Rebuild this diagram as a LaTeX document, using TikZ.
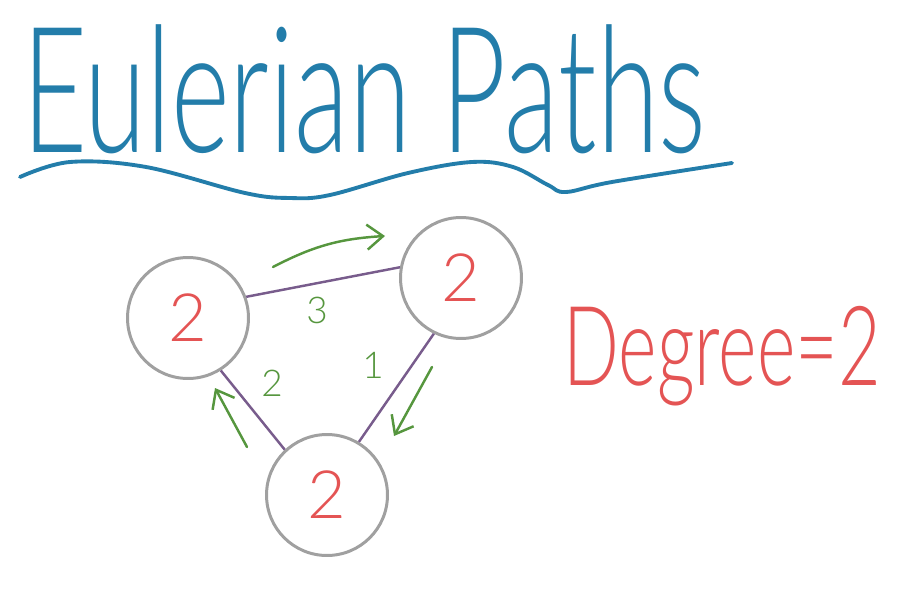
\documentclass[tikz,border=0pt]{standalone}
\usepackage{fontspec}
\setmainfont{Lato}[UprightFont=* Light]
\usepackage{tikz}
\usetikzlibrary{arrows.meta, positioning}
\definecolor{azulTitulo}{RGB}{35,125,170}
\definecolor{rojoGrado}{RGB}{228,84,84}
\definecolor{verdeFlecha}{RGB}{86,150,62}
\definecolor{moradoArista}{RGB}{120,92,140}
\definecolor{grisNodo}{RGB}{160,160,160}

\begin{document}
\begin{tikzpicture}[x=0.02cm, y=-0.02cm,
    vertex/.style={circle, draw=grisNodo, line width=1.7pt, minimum size=2.42cm, inner sep=0pt, text=rojoGrado, font=\fontsize{38}{40}\selectfont},
    edge/.style={draw=moradoArista, line width=1.4pt},
    flow/.style={draw=verdeFlecha, line width=1.4pt, line cap=round, -{Straight Barb[length=3.2mm, width=5mm, line width=1.4pt]}},
    edgelabel/.style={text=verdeFlecha, inner sep=0pt, font=\fontsize{21}{22}\selectfont},
    uline/.style={draw=azulTitulo, line width=2.2pt, line cap=round}
]
    \useasboundingbox (0,0) rectangle (915,588);

    % title
    \node[anchor=base west, inner sep=0pt, text=azulTitulo, font=\fontsize{100}{102}\selectfont] (title) at (22,152) {\scalebox{0.64}[1]{Eulerian Paths}};
    \draw[uline] plot[smooth, tension=0.6] coordinates {(20,177) (70,162) (146,167) (245,193) (290,198) (330,195) (408,173) (472,162) (513,167) (548,185) (566,192) (612,182) (732,163)};

    % graph
    \node[vertex] (vl) at (188,318) {2};
    \node[vertex] (vt) at (461,278) {2};
    \node[vertex] (vb) at (327,495) {2};

    \draw[edge] (vl.20) -- (vt.170);
    \draw[edge] (vt.244) -- (vb.59);
    \draw[edge] (vl.302) -- (vb.133);

    \node[edgelabel] (n3) at (317,310) {3};
    \node[edgelabel] (n1) at (373,365) {1};
    \node[edgelabel] (n2) at (272,383) {2};

    % walk order
    \coordinate (f3a) at (273,267);
    \coordinate (f3b) at (385,236);
    \coordinate (f1a) at (432,367);
    \coordinate (f1b) at (394,436);
    \coordinate (f2a) at (247,447);
    \coordinate (f2b) at (215,388);
    \draw[flow] (f3a) to[bend left=12] (f3b);
    \draw[flow] (f1a) -- (f1b);
    \draw[flow] (f2a) -- (f2b);

    \node[anchor=base west, inner sep=0pt, text=rojoGrado, font=\fontsize{63}{65}\selectfont] (degree) at (563,385) {\scalebox{0.665}[1]{Degree=2}};
\end{tikzpicture}
\end{document}
